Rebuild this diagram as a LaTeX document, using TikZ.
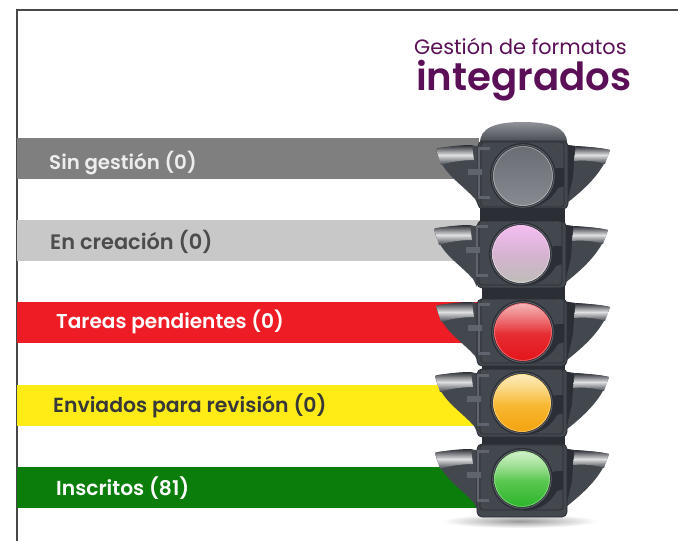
\documentclass[tikz,border=0pt]{standalone}
\usepackage{fontspec}
\setmainfont{Poppins}[BoldFont={Poppins SemiBold}]
\usetikzlibrary{shadings,fadings}
\definecolor{hsg}{HTML}{43474E}
\definecolor{hsl}{HTML}{60646C}
\definecolor{hsd}{HTML}{2B2E34}
\definecolor{titlec}{HTML}{5A0F56}
\definecolor{framec}{HTML}{484848}
\definecolor{bargray}{HTML}{7F7F7F}
\definecolor{barlight}{HTML}{C8C8C8}
\definecolor{barred}{HTML}{EE1C25}
\definecolor{baryellow}{HTML}{FFEC17}
\definecolor{bargreen}{HTML}{0B7D0B}
\tikzset{
  x=1pt,y=-1pt,
  barbox/.style={draw=none,minimum height=41pt,minimum width=462pt,anchor=west,inner sep=0pt},
  barlabel/.style={anchor=base west,inner sep=0pt},
  panel/.style={fill=hsg,draw=hsd,line width=.8pt,rounded corners=5pt},
  wing/.pic={
    \fill[hsg] (-7,-2) .. controls (-30,0) and (-40,0) .. (-43,2)
       .. controls (-38,26) and (-18,36) .. (-4,52) -- (0,60) -- (2,0) -- cycle;
    \shade[top color=hsd,bottom color=hsg,middle color=white!80!hsl] (-43,2) .. controls (-30,-1) and (-16,-2) .. (-7,-2)
       -- (-5,13) .. controls (-16,13) and (-30,15) .. (-38,18) -- cycle;
    \fill[hsg] (84,-2) .. controls (105,0) and (120,0) .. (131,3)
       .. controls (124,25) and (108,40) .. (88,56) -- cycle;
    \fill[hsd] (84,-3) -- (96,-1) -- (94,30) -- (88,56) -- cycle;
    \shade[top color=hsd,bottom color=hsg,middle color=white!80!hsl] (97,-1) .. controls (110,0) and (122,1) .. (131,3)
       -- (126,17) .. controls (118,14) and (106,13) .. (95,14) -- cycle;
  }
}
\begin{document}
\begin{tikzpicture}
\useasboundingbox (0,0) rectangle (678,541);
\fill[white] (0,0) rectangle (678,541);
% frame
\draw[draw=framec,line width=2pt] (16.5,541) -- (16.5,10) -- (678,10);
% bars
\node[barbox,fill=bargray] (b1) at (17,158.5) {};
\node[barbox,fill=barlight] (b2) at (17,240.5) {};
\node[barbox,fill=barred] (b3) at (17,322.5) {};
\node[barbox,fill=baryellow] (b4) at (17,405.5) {};
\node[barbox,fill=bargreen] (b5) at (17,487.5) {};
% labels
\node[barlabel,text=white!93!black,font=\bfseries\fontsize{19.8}{22}\selectfont] (t1) at (49,169) {Sin gestión (0)};
\node[barlabel,text=black!70,font=\bfseries\fontsize{20.9}{22}\selectfont] (t2) at (50,249) {En creación (0)};
\node[barlabel,text=white,font=\bfseries\fontsize{20.1}{22}\selectfont] (t3) at (56,328) {Tareas pendientes (0)};
\node[barlabel,text=black!78,font=\bfseries\fontsize{20.4}{22}\selectfont] (t4) at (53,412) {Enviados para revisión (0)};
\node[barlabel,text=white,font=\bfseries\fontsize{20.3}{22}\selectfont] (t5) at (56,495) {Inscritos (81)};
% title
\node[anchor=base west,inner sep=0pt,text=titlec,font=\fontsize{20.8}{22}\selectfont] (h1) at (414,54) {Gestión de formatos};
\node[anchor=base west,inner sep=0pt,text=titlec,font=\bfseries\fontsize{38.7}{40}\selectfont] (h2) at (416,90) {integrados};
% shadow
\shade[inner color=black!40,outer color=white] (520,521) ellipse (78 and 7);
% column
\fill[hsd] (482,140) rectangle (565,516);
% dome
\shade[top color=hsl!70!white,bottom color=hsg] (480,143) .. controls (480,128) and (495,122) .. (522,122)
  .. controls (552,122) and (567,128) .. (567,143) -- cycle;
% wings
\pic at (479,147) {wing};
\pic at (477,227) {wing};
\pic at (479,304) {wing};
\pic at (478,374) {wing};
\pic at (478,451) {wing};
% panels
\draw[panel] (478,141) rectangle (568,209);
\draw[panel] (477,221) rectangle (566,288);
\draw[panel] (477,299) rectangle (567,366);
\draw[panel] (477,369) rectangle (567,437);
\draw[panel] (477,444) rectangle (567,517);
\fill[hsd] (480,208) rectangle (565,221);
% lamps
\foreach \cx/\cy/\r/\ctop/\cmid/\cbot/\gl in {
  523/176/30/6A6D74/74777E/878A90/0,
  521/254/29/EFA8EA/D9C99A/BDBDB8/.25,
  523/332/29/E8484E/EA3434/E3151A/.6,
  522/403/29/FBCF5A/FCC530/F4A30F/.6,
  522/479/28/8EDC7C/5ED047/2CB52A/.6}{
  \definecolor{ctop}{HTML}{\ctop}\definecolor{cmid}{HTML}{\cmid}\definecolor{cbot}{HTML}{\cbot}
  % inner outline of the panel
  \draw[hsd,line width=.7pt,rounded corners=3pt] (\cx-42,\cy-34) rectangle (\cx+41,\cy+31);
  % seat
  \fill[hsd] (\cx+35,\cy-8) -- (\cx+41,\cy-8) -- (\cx+41,\cy+10) -- (\cx+35,\cy+12)
     .. controls (\cx+28,\cy+24) and (\cx+18,\cy+31) .. (\cx+2,\cy+32) -- (\cx,\cy) -- cycle;
  \fill[hsd] (\cx,\cy) circle (\r+3);
  \draw[hsl,line width=.8pt] (\cx,\cy) circle (\r+1.2);
  % lens
  \shade[top color=ctop,middle color=cmid,bottom color=cbot] (\cx,\cy) circle (\r);
  \begin{scope}
    \clip (\cx,\cy) circle (\r-1);
    \fill[white,path fading=south,fill opacity=\gl] (\cx-\r,\cy-\r) rectangle (\cx+\r,\cy+2);
  \end{scope}
  \draw[white,opacity=.4,line width=.6pt] (\cx,\cy) circle (\r-.6);
  % hinges
  \fill[hsl] (\cx-45,\cy-29) rectangle ++(12,2.5);
  \fill[hsl] (\cx-55,\cy-7) rectangle ++(14,6);
  \fill[hsl] (\cx-45,\cy+20) rectangle ++(12,2.5);
  \fill[hsl] (\cx-45,\cy-29) rectangle ++(2,52);
  % bolts
  \foreach \bx/\by in {-38/-31,35/-31,-38/27,35/27}
    \fill[black!70] (\cx+\bx,\cy+\by) circle (1.5);
}
\end{tikzpicture}
\end{document}
